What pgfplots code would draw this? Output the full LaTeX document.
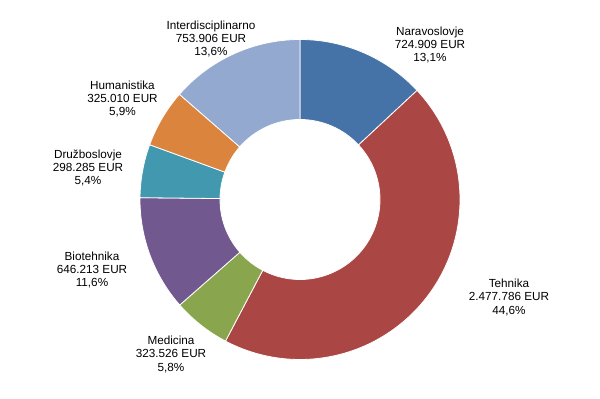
\documentclass[border=0pt]{standalone}
\usepackage{pgfplots}
\pgfplotsset{compat=1.18}
\usepackage{fontspec}
\setmainfont{Liberation Sans}
\definecolor{cNar}{HTML}{4572A7}
\definecolor{cTeh}{HTML}{AA4643}
\definecolor{cMed}{HTML}{89A54E}
\definecolor{cBio}{HTML}{71588F}
\definecolor{cDru}{HTML}{4198AF}
\definecolor{cHum}{HTML}{DB843D}
\definecolor{cInt}{HTML}{93A9CF}
% values in thousand EUR
\def\total{5549.635}
\newcommand{\slice}[3]{% #1 cumulative start, #2 value, #3 colour
  \pgfmathsetmacro{\angA}{90-#1/\total*360}%
  \pgfmathsetmacro{\angB}{90-(#1+#2)/\total*360}%
  \edef\temp{\noexpand\filldraw[fill=#3,draw=white,line width=0.6pt]
    ([shift={(\angA:120pt)}]axis cs:300,199.5)
    arc[start angle=\angA,end angle=\angB,radius=120pt]
    -- ([shift={(\angB:60pt)}]axis cs:300,199.5)
    arc[start angle=\angB,end angle=\angA,radius=60pt] -- cycle;}%
  \temp
}
\begin{document}
\begin{tikzpicture}
\begin{axis}[x=0.75pt,y=0.75pt,xmin=0,xmax=600,ymin=0,ymax=399,
  hide axis,clip=false,scale only axis]
\path (axis cs:0,0) rectangle (axis cs:600,399);
\slice{0}{724.909}{cNar}
\slice{724.909}{2477.786}{cTeh}
\slice{3202.695}{323.526}{cMed}
\slice{3526.221}{646.213}{cBio}
\slice{4172.434}{298.285}{cDru}
\slice{4470.719}{325.010}{cHum}
\slice{4795.729}{753.906}{cInt}
\tikzset{lbl/.style={align=center,inner sep=0pt,font=\fontsize{8.8}{10}\selectfont}}
\node[lbl] at (axis cs:430,354) {Naravoslovje\\724.909 EUR\\13,1\%};
\node[lbl] at (axis cs:509,101.5) {Tehnika\\2.477.786 EUR\\44,6\%};
\node[lbl] at (axis cs:171,44.5) {Medicina\\323.526 EUR\\5,8\%};
\node[lbl] at (axis cs:92,129) {Biotehnika\\646.213 EUR\\11,6\%};
\node[lbl] at (axis cs:88,231) {Družboslovje\\298.285 EUR\\5,4\%};
\node[lbl] at (axis cs:122.5,300) {Humanistika\\325.010 EUR\\5,9\%};
\node[lbl] at (axis cs:211,360) {Interdisciplinarno\\753.906 EUR\\13,6\%};
\end{axis}
\end{tikzpicture}
\end{document}
